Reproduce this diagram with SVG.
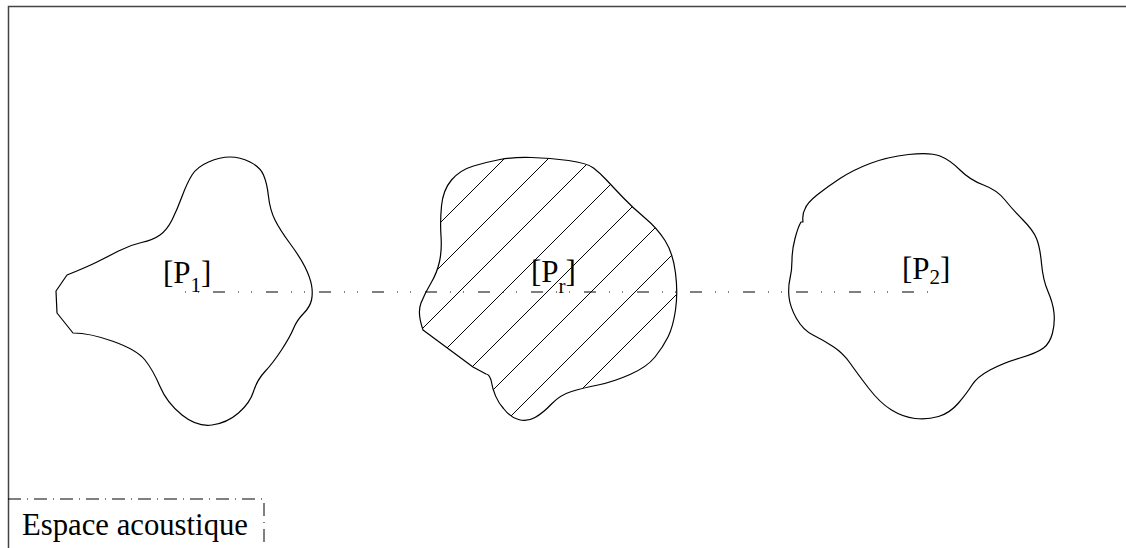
<svg xmlns="http://www.w3.org/2000/svg" width="1126" height="548" viewBox="0 0 1126 548">
<style>
.shape{fill:none;stroke:#000;stroke-width:1.2;stroke-linejoin:round}
.hatch{stroke:#000;stroke-width:1}
.axis{fill:none;stroke:#000;stroke-width:1;stroke-dasharray:12 13 1 12 1 14;stroke-dashoffset:25}
.lbl{font-family:"Liberation Serif","Times New Roman",serif;font-size:31px;fill:#000}
.sub{font-size:21px}
.box{fill:none;stroke:#000;stroke-width:1;stroke-dasharray:13 6 1 6}
</style>
<defs>
<clipPath id="clipR">
<path d="M423,330 Q417,313 421,303 Q425,293 431,283 Q437,273 439.5,261.5 Q442,250 441,236 Q440,222 441.5,206 Q443,190 451.5,180 Q460,170 473.5,166 Q487,162 500,159.5 Q513,157 531.5,157.5 Q550,158 568.5,160.5 Q587,163 593.5,168 Q600,173 606.5,180 Q613,187 623,197.5 Q633,208 645,218 Q657,228 665,240.5 Q673,253 675.5,273 Q678,293 675.5,310 Q673,327 668,337 Q663,347 655,357 Q647,367 630,374.5 Q613,382 598,385 Q583,388 571.5,391.5 Q560,395 551.5,404 Q543,413 535,417.5 Q527,422 518.5,419.5 Q510,417 503.5,408.5 Q494,398 491,380 Q489,374 486,374 L473,367 Z"/>
</clipPath>
</defs>
<g id="frame">
<path d="M8.5,548 V6.5 H1126" fill="none" stroke="#444" stroke-width="1.5"/>
</g>
<g id="espace">
<path class="box" d="M8,499 H264 V548"/>
<text class="lbl" x="22" y="535" textLength="226" lengthAdjust="spacingAndGlyphs">Espace acoustique</text>
</g>
<g id="connectors">
<path class="axis" d="M185,292 H929"/>
</g>
<g id="P1">
<path class="shape" d="M67,275 L56,291 L57,313 L73,333 Q90,333 113.5,341.5 Q137,350 145,360 Q153,370 160,386.5 Q167,403 182,415 Q197,427 212,425 Q227,423 238.5,413 Q250,403 253.5,391.5 Q257,380 265,371.5 Q273,363 281.5,350 Q290,337 293.5,328.5 Q297,320 303.5,313.5 Q310,307 311.5,300 Q313,293 311.5,285 Q310,277 305,267 Q300,257 290,243.5 Q280,230 275,220 Q270,210 268.5,196.5 Q267,183 263.5,175 Q260,167 250,162 Q240,157 230,157 Q220,157 208.5,162 Q197,167 192,175 Q187,183 182,196.5 Q177,210 172,220 Q167,230 160,235 Q153,240 141.5,242.5 Q130,245 118.5,251 Q107,257 97,262 Q87,267 67,275 Z"/>
<text class="lbl" x="163" y="283">[P<tspan class="sub" dy="9">1</tspan><tspan dy="-9">]</tspan></text>
</g>
<g id="Pr">
<g clip-path="url(#clipR)">
<path class="hatch" d="M400,263 L700,-37 M400,307 L700,7 M400,351 L700,51 M400,395 L700,95 M400,439 L700,139 M400,483 L700,183 M400,527 L700,227 M400,571 L700,271"/>
</g>
<path class="shape" d="M423,330 Q417,313 421,303 Q425,293 431,283 Q437,273 439.5,261.5 Q442,250 441,236 Q440,222 441.5,206 Q443,190 451.5,180 Q460,170 473.5,166 Q487,162 500,159.5 Q513,157 531.5,157.5 Q550,158 568.5,160.5 Q587,163 593.5,168 Q600,173 606.5,180 Q613,187 623,197.5 Q633,208 645,218 Q657,228 665,240.5 Q673,253 675.5,273 Q678,293 675.5,310 Q673,327 668,337 Q663,347 655,357 Q647,367 630,374.5 Q613,382 598,385 Q583,388 571.5,391.5 Q560,395 551.5,404 Q543,413 535,417.5 Q527,422 518.5,419.5 Q510,417 503.5,408.5 Q494,398 491,380 Q489,374 486,374 L473,367 Z"/>
<text class="lbl" x="531" y="282">[P<tspan class="sub" dy="11">r</tspan><tspan dy="-11">]</tspan></text>
</g>
<g id="P2">
<path class="shape" d="M805,209 Q807,203 817,195 Q827,187 840,178.5 Q853,170 870,163.5 Q887,157 908.5,154.5 Q930,152 940,156 Q950,160 960,170 Q970,180 983.5,185 Q997,190 1005,200 Q1013,210 1023,220 Q1033,230 1036.5,238.5 Q1040,247 1041.5,263.5 Q1043,280 1048,291.5 Q1053,303 1054,313 Q1055,323 1052.5,333 Q1050,343 1043.5,348 Q1037,353 1020,358 Q1003,363 990,370 Q977,377 972,385 Q967,393 958.5,403 Q950,413 938.5,416.5 Q927,420 915,418.5 Q903,417 891.5,410 Q880,403 868.5,388 Q857,373 850,363 Q843,353 833,346.5 Q823,340 813,335 Q803,330 796.5,318.5 Q790,307 789,297 Q788,287 790,278.5 Q792,270 792,260 Q792,250 795,238.5 Q798,227 801,222 L803,222 Q802,214 805,209 Z"/>
<text class="lbl" x="902" y="279">[P<tspan class="sub" dy="5">2</tspan><tspan dy="-5">]</tspan></text>
</g>
</svg>
